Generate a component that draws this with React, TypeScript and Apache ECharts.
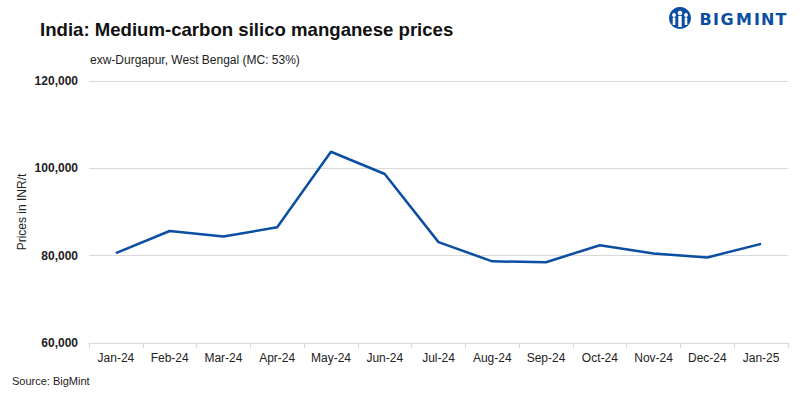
import React, { useEffect, useRef } from "react";
import * as echarts from "echarts";

const categories = ["Jan-24", "Feb-24", "Mar-24", "Apr-24", "May-24", "Jun-24", "Jul-24", "Aug-24", "Sep-24", "Oct-24", "Nov-24", "Dec-24", "Jan-25"];
const prices = [80600, 85650, 84400, 86500, 103800, 98700, 83100, 78700, 78500, 82400, 80500, 79600, 82700];
const yTicks = [60000, 80000, 100000, 120000];

const title = "India: Medium-carbon silico manganese prices";
const subtitle = "exw-Durgapur, West Bengal (MC: 53%)";
const source = "Source: BigMint";
const yName = "Prices in INR/t";
const logoLetters = ["B", "I", "G", "M", "I", "N", "T"];

const BLUE = "#0b4ea2";
const FONT = "Liberation Sans, Arial, sans-serif";

export default function App() {
  const ref = useRef<HTMLDivElement>(null);
  useEffect(() => {
    if (!ref.current) return;
    const chart = echarts.init(ref.current, undefined, { renderer: "svg" });
    const letterX = [0, 13.5, 21, 36.5, 54.5, 61.5, 76];
    chart.setOption({
      animation: false,
      backgroundColor: "#ffffff",
      textStyle: { fontFamily: FONT },
      grid: { left: 89, right: 18, top: 81, bottom: 56 },
      xAxis: {
        type: "category",
        data: categories,
        boundaryGap: true,
        axisLine: { show: true, lineStyle: { color: "#d9d9d9", width: 1 } },
        axisTick: { show: true, length: 5, lineStyle: { color: "#d9d9d9" } },
        axisLabel: { color: "#222", fontSize: 12, margin: 9 },
      },
      yAxis: {
        type: "value",
        min: yTicks[0],
        max: yTicks[yTicks.length - 1],
        interval: 20000,
        name: yName,
        nameLocation: "middle",
        nameGap: 61,
        nameMoveOverlap: false,
        nameTextStyle: { color: "#222", fontSize: 12 },
        axisLine: { show: false },
        axisTick: { show: false },
        axisLabel: {
          color: "#222",
          fontSize: 12,
          fontWeight: "bold",
          margin: 11,
          formatter: (v: number) => v.toLocaleString("en-US"),
        },
        splitLine: { lineStyle: { color: "#d9d9d9", width: 1 } },
      },
      series: [
        {
          type: "line",
          data: prices,
          symbol: "none",
          lineStyle: { color: BLUE, width: 2.5 },
        },
      ],
      graphic: [
        {
          type: "text",
          left: 40,
          top: 20,
          style: { text: title, fontSize: 18.6, fontWeight: "bold", fill: "#111", fontFamily: FONT },
        },
        {
          type: "text",
          left: 90,
          top: 54,
          style: { text: subtitle, fontSize: 12, fill: "#222", fontFamily: FONT },
        },
        {
          type: "text",
          left: 12,
          top: 375,
          style: { text: source, fontSize: 11, fill: "#222", fontFamily: FONT },
        },
        {
          type: "group",
          left: 669,
          top: 7,
          children: [
            { type: "circle", shape: { cx: 12, cy: 11, r: 11 }, style: { fill: BLUE } },
            { type: "circle", shape: { cx: 12, cy: 6, r: 2.3 }, style: { fill: "#fff" } },
            { type: "rect", shape: { x: 10.3, y: 9, width: 3.4, height: 11 }, style: { fill: "#fff" } },
            { type: "circle", shape: { cx: 6, cy: 8, r: 1.9 }, style: { fill: "#fff" } },
            { type: "rect", shape: { x: 4.7, y: 10.5, width: 2.6, height: 7.5 }, style: { fill: "#fff" } },
            { type: "circle", shape: { cx: 18, cy: 8, r: 1.9 }, style: { fill: "#fff" } },
            { type: "rect", shape: { x: 16.7, y: 10.5, width: 2.6, height: 7.5 }, style: { fill: "#fff" } },
            ...logoLetters.map((ch, i) => ({
              type: "text",
              x: 31.5 + letterX[i],
              y: 4,
              style: { text: ch, fontSize: 16, fontWeight: 900, fill: BLUE, fontFamily: "DejaVu Sans, sans-serif" },
            })),
          ],
        },
      ],
    });
    return () => chart.dispose();
  }, []);
  return <div ref={ref} style={{ position: "fixed", left: 0, top: 0, width: 806, height: 399 }} />;
}
